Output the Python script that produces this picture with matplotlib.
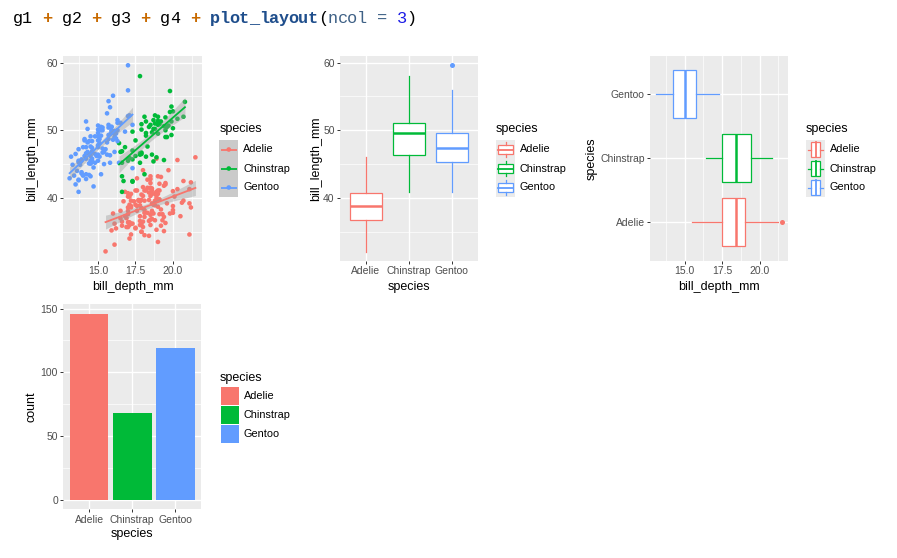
import numpy as np
import matplotlib
matplotlib.use("Agg")
import matplotlib.pyplot as plt
from matplotlib.patches import Rectangle

# ---------------- data (bill_length_mm, bill_depth_mm) ----------------
species = ["Adelie", "Chinstrap", "Gentoo"]
colors = ["#F8766D", "#00BA38", "#619CFF"]

adelie = [(39.1,18.7),(39.5,17.4),(40.3,18.0),(36.7,19.3),(39.3,20.6),(38.9,17.8),(39.2,19.6),(41.1,17.6),
(38.6,21.2),(34.6,21.1),(36.6,17.8),(38.7,19.0),(42.5,20.7),(34.4,18.4),(46.0,21.5),(37.8,18.3),(37.7,18.7),
(35.9,19.2),(38.2,18.1),(38.8,17.2),(35.3,18.9),(40.6,18.6),(40.5,17.9),(37.9,18.6),(40.5,18.9),(39.5,16.7),
(37.2,18.1),(39.5,17.8),(40.9,18.9),(36.4,17.0),(39.2,21.1),(38.8,20.0),(42.2,18.5),(37.6,19.3),(39.8,19.1),
(36.5,18.0),(40.8,18.4),(36.0,18.5),(44.1,19.7),(37.0,16.9),(39.6,18.8),(41.1,19.0),(36.0,17.9),(42.3,21.2),
(39.6,17.7),(40.1,18.9),(35.0,17.9),(42.0,19.5),(34.5,18.1),(41.4,18.6),(39.0,17.5),(40.6,18.8),(36.5,16.6),
(37.6,19.1),(35.7,16.9),(41.3,21.1),(37.6,17.0),(41.1,18.2),(36.4,17.1),(41.6,18.0),(35.5,16.2),(41.1,19.1),
(35.9,16.6),(41.8,19.4),(33.5,19.0),(39.7,18.4),(39.6,17.2),(45.8,18.9),(35.5,17.5),(42.8,18.5),(40.9,16.8),
(37.2,19.4),(36.2,16.1),(42.1,19.1),(34.6,17.2),(42.9,17.6),(36.7,18.8),(35.1,19.4),(37.3,17.8),(41.3,20.3),
(36.3,19.5),(36.9,18.6),(38.3,19.2),(38.9,18.8),(35.7,18.0),(41.1,18.1),(34.0,17.1),(39.6,18.1),(36.2,17.3),
(40.8,18.9),(38.1,18.6),(40.3,18.5),(33.1,16.1),(43.2,18.5),(35.0,17.9),(41.0,20.0),(37.7,16.0),(37.8,20.0),
(37.9,18.6),(39.7,18.9),(38.6,17.2),(38.2,20.0),(38.1,17.0),(43.2,19.0),(38.1,16.5),(45.6,20.3),(39.7,17.7),
(42.2,19.5),(39.6,20.7),(42.7,18.3),(38.6,17.0),(37.3,20.5),(35.7,17.0),(41.1,18.6),(36.2,17.2),(37.7,19.8),
(40.2,17.0),(41.4,18.5),(35.2,15.9),(40.6,19.0),(38.8,17.6),(41.5,18.3),(39.0,17.1),(44.1,18.0),(38.5,17.9),
(43.1,19.2),(36.8,18.5),(37.5,18.5),(38.1,17.6),(41.1,17.5),(35.6,17.5),(40.2,20.1),(37.0,16.5),(39.7,17.9),
(40.2,17.1),(40.6,17.2),(32.1,15.5),(40.7,17.0),(37.3,16.8),(39.0,18.7),(39.2,18.6),(36.6,18.4),(36.0,17.8),
(37.8,18.1),(36.0,17.1),(41.5,18.5)]

chinstrap = [(46.5,17.9),(50.0,19.5),(51.3,19.2),(45.4,18.7),(52.7,19.8),(45.2,17.8),(46.1,18.2),(51.3,18.2),
(46.0,18.9),(51.3,19.9),(46.6,17.8),(51.7,20.3),(47.0,17.3),(52.0,18.1),(45.9,17.1),(50.5,19.6),(50.3,20.0),
(58.0,17.8),(46.4,18.6),(49.2,18.2),(42.4,17.3),(48.5,17.5),(43.2,16.6),(50.6,19.4),(46.7,17.9),(52.0,19.0),
(50.5,18.4),(49.5,19.0),(46.4,17.8),(52.8,20.0),(40.9,16.6),(54.2,20.8),(42.5,16.7),(51.0,18.8),(49.7,18.6),
(47.5,16.8),(47.6,18.3),(52.0,20.7),(46.9,16.6),(53.5,19.9),(49.0,19.5),(46.2,17.5),(50.9,19.1),(45.5,17.0),
(50.9,17.9),(50.8,18.5),(50.1,17.9),(49.0,19.6),(51.5,18.7),(49.8,17.3),(48.1,16.4),(51.4,19.0),(45.7,17.3),
(50.7,19.7),(42.5,17.3),(52.2,18.8),(45.2,16.6),(49.3,19.9),(50.2,18.8),(45.6,19.4),(51.9,19.5),(46.8,16.5),
(45.7,17.0),(55.8,19.8),(43.5,18.1),(49.6,18.2),(50.8,19.0),(50.2,18.7)]

gentoo = [(46.1,13.2),(50.0,16.3),(48.7,14.1),(50.0,15.2),(47.6,14.5),(46.5,13.5),(45.4,14.6),(46.7,15.3),
(43.3,13.4),(46.8,15.4),(40.9,13.7),(49.0,16.1),(45.5,13.7),(48.4,14.6),(45.8,14.6),(49.3,15.7),(42.0,13.5),
(49.2,15.2),(46.2,14.5),(48.7,15.1),(50.2,14.3),(45.1,14.5),(46.5,14.5),(46.3,15.8),(42.9,13.1),(46.1,15.1),
(47.8,15.0),(48.2,14.3),(50.0,15.3),(47.3,15.3),(42.8,14.2),(45.1,14.5),(59.6,17.0),(49.1,14.8),(48.4,16.3),
(42.6,13.7),(44.4,17.3),(44.0,13.6),(48.7,15.7),(42.7,13.7),(49.6,16.0),(45.3,13.7),(49.6,15.0),(50.5,15.9),
(43.6,13.9),(45.5,13.9),(50.5,15.9),(44.9,13.3),(45.2,15.8),(46.6,14.2),(48.5,14.1),(45.1,14.4),(50.1,15.0),
(46.5,14.4),(45.0,15.4),(43.8,13.9),(45.5,15.0),(43.2,14.5),(50.4,15.3),(45.3,13.8),(46.2,14.9),(45.7,13.9),
(54.3,15.7),(45.8,14.2),(49.8,16.8),(49.5,16.2),(43.5,14.2),(50.7,15.0),(47.7,15.0),(46.4,15.6),(48.2,15.6),
(46.5,14.8),(46.4,15.0),(48.6,16.0),(47.5,14.2),(51.1,16.3),(45.2,13.8),(45.2,16.4),(49.1,14.5),(52.5,15.6),
(47.4,14.6),(50.0,15.9),(44.9,13.8),(50.8,17.3),(43.4,14.4),(51.3,14.2),(47.5,14.0),(52.1,17.0),(47.5,15.0),
(52.2,17.1),(45.5,14.5),(49.5,16.1),(44.5,14.7),(50.8,15.7),(49.4,15.8),(46.9,14.6),(48.4,14.4),(51.1,16.5),
(48.5,15.0),(55.9,17.0),(47.2,15.5),(49.1,15.0),(46.8,16.1),(41.7,14.7),(53.4,15.8),(43.3,14.0),(48.1,15.1),
(50.5,15.2),(49.8,15.9),(43.5,15.2),(51.5,16.3),(46.2,14.1),(55.1,16.0),(48.8,16.2),(47.2,13.7),(46.8,14.3),
(50.4,15.7),(45.2,14.8),(49.9,16.1)]

counts = [146, 68, 119]

groups = [adelie, chinstrap, gentoo]
lengths = [np.array([p[0] for p in g]) for g in groups]
depths = [np.array([p[1] for p in g]) for g in groups]

# ---------------- figure setup ----------------
W, H = 897, 558
fig = plt.figure(figsize=(W / 100, H / 100), dpi=100)
fig.patch.set_facecolor("white")

SANS = ["Liberation Sans", "DejaVu Sans"]
TICK_FS = 7.5
LEG_FS = 7.8
TITLE_FS = 9.0
PANEL_BG = "#EBEBEB"

def ax_at(x0, y0, x1, y1):
    return fig.add_axes([x0 / W, 1 - y1 / H, (x1 - x0) / W, (y1 - y0) / H])

def style(ax):
    ax.set_facecolor(PANEL_BG)
    for s in ax.spines.values():
        s.set_visible(False)
    ax.set_axisbelow(True)
    ax.grid(True, which="major", color="white", lw=1.0)
    ax.grid(True, which="minor", color="white", lw=0.5)
    ax.tick_params(which="major", length=2.3, width=0.7, color="#333333",
                   labelcolor="#4D4D4D", labelsize=TICK_FS, pad=1.5)
    ax.tick_params(which="minor", length=0)
    for lab in ax.get_xticklabels() + ax.get_yticklabels():
        lab.set_family(SANS)

def t975(df):
    z = 1.959964
    return z + (z**3 + z) / (4 * df) + (5 * z**5 + 16 * z**3 + 3 * z) / (96 * df**2)

# overlay axes in pixel coords for titles, legends, code line
ov = fig.add_axes([0, 0, 1, 1], zorder=10)
ov.set_xlim(0, W)
ov.set_ylim(H, 0)
ov.axis("off")

def pix_text(x, y, s, **kw):
    kw.setdefault("family", SANS)
    ov.text(x, y, s, **kw)

# ---------------- code line ----------------
code_parts = [("g1 ", "#000000", "normal"), ("+", "#C86A00", "bold"), (" g2 ", "#000000", "normal"),
              ("+", "#C86A00", "bold"), (" g3 ", "#000000", "normal"), ("+", "#C86A00", "bold"),
              (" g4 ", "#000000", "normal"), ("+", "#C86A00", "bold"), (" ", "#000000", "normal"),
              ("plot_layout", "#1F4E8C", "bold"), ("(", "#000000", "normal"),
              ("ncol", "#3F6186", "normal"), (" = ", "#3F6186", "normal"), ("3", "#1A1AE6", "normal"),
              (")", "#000000", "normal")]
CW = 9.85
cx = 17.5 - CW / 2
for s, c, w in code_parts:
    for ch in s:
        if ch != " ":
            ov.text(cx + CW / 2, 22.7, ch, family=["Liberation Mono", "DejaVu Sans Mono"],
                    fontsize=12.2, color=c, weight=w, ha="center", va="baseline")
        cx += CW

xlim_depth = (12.68, 21.92)
ylim_len = (30.725, 60.975)

# ---------------- g1: scatter + lm ----------------
ax1 = ax_at(63.3, 56, 201.7, 260.7)
for d, l, c in zip(depths, lengths, colors):
    ax1.scatter(d, l, s=11, color=c, edgecolors="none", zorder=3)
for d, l, c in zip(depths, lengths, colors):
    n = len(d)
    b, a = np.polyfit(d, l, 1)
    xs = np.linspace(d.min(), d.max(), 80)
    yhat = a + b * xs
    resid = l - (a + b * d)
    s2 = np.sum(resid**2) / (n - 2)
    se = np.sqrt(s2 * (1 / n + (xs - d.mean())**2 / np.sum((d - d.mean())**2)))
    tq = t975(n - 2)
    ax1.fill_between(xs, yhat - tq * se, yhat + tq * se, color="#999999", alpha=0.4, lw=0, zorder=4)
    ax1.plot(xs, yhat, color=c, lw=1.3, zorder=5)
ax1.set_xlim(*xlim_depth)
ax1.set_ylim(*ylim_len)
ax1.set_xticks([15.0, 17.5, 20.0])
ax1.set_xticklabels(["15.0", "17.5", "20.0"])
ax1.set_xticks([13.75, 16.25, 18.75, 21.25], minor=True)
ax1.set_yticks([40, 50, 60])
ax1.set_yticks([35, 45, 55], minor=True)
style(ax1)
pix_text(132.5, 286.7, "bill_depth_mm", fontsize=TITLE_FS, ha="center", va="center")
pix_text(31.7, 158.4, "bill_length_mm", fontsize=TITLE_FS, ha="center", va="center", rotation=90)

# ---------------- g2: boxplot bill_length by species ----------------
def draw_box(ax, data, orient):
    bp = ax.boxplot(data, positions=[1, 2, 3], widths=0.75, whis=1.5, patch_artist=True,
                    showcaps=False, orientation=orient, manage_ticks=False)
    for i, c in enumerate(colors):
        bp["boxes"][i].set(facecolor="white", edgecolor=c, lw=0.9)
        bp["medians"][i].set(color=c, lw=1.8)
        for w in bp["whiskers"][2 * i:2 * i + 2]:
            w.set(color=c, lw=0.9)
        bp["fliers"][i].set(marker="o", markerfacecolor=c, markeredgecolor="none", markersize=3.6)

ax2 = ax_at(340, 56, 477.7, 261)
draw_box(ax2, lengths, "vertical")
ax2.set_xlim(0.4, 3.6)
ax2.set_ylim(*ylim_len)
ax2.set_xticks([1, 2, 3])
ax2.set_xticklabels(species)
ax2.set_yticks([40, 50, 60])
ax2.set_yticks([35, 45, 55], minor=True)
style(ax2)
pix_text(408.8, 286.7, "species", fontsize=TITLE_FS, ha="center", va="center")
pix_text(316.5, 158.5, "bill_length_mm", fontsize=TITLE_FS, ha="center", va="center", rotation=90)

# ---------------- g3: horizontal boxplot bill_depth by species ----------------
ax3 = ax_at(650, 56, 788.3, 260.7)
draw_box(ax3, depths, "horizontal")
ax3.set_ylim(0.4, 3.6)
ax3.set_xlim(*xlim_depth)
ax3.set_yticks([1, 2, 3])
ax3.set_yticklabels(species)
ax3.set_xticks([15.0, 17.5, 20.0])
ax3.set_xticklabels(["15.0", "17.5", "20.0"])
ax3.set_xticks([13.75, 16.25, 18.75, 21.25], minor=True)
style(ax3)
pix_text(719.2, 287, "bill_depth_mm", fontsize=TITLE_FS, ha="center", va="center")
pix_text(592, 158.4, "species", fontsize=TITLE_FS, ha="center", va="center", rotation=90)

# ---------------- g4: bar counts ----------------
ax4 = ax_at(63.3, 304.3, 201, 509.3)
ax4.bar([1, 2, 3], counts, width=0.9, color=colors, zorder=3)
ax4.set_xlim(0.4, 3.6)
ax4.set_ylim(-0.05 * max(counts), 1.05 * max(counts))
ax4.set_xticks([1, 2, 3])
ax4.set_xticklabels(species)
ax4.set_yticks([0, 50, 100, 150])
ax4.set_yticks([25, 75, 125], minor=True)
style(ax4)
pix_text(132.2, 534.3, "species", fontsize=TITLE_FS, ha="center", va="center")
pix_text(31.7, 406.8, "count", fontsize=TITLE_FS, ha="center", va="center", rotation=90)

# ---------------- legends ----------------
KEY = 19.0

def legend(x0, y_title, y0, kind):
    pix_text(x0, y_title, "species", fontsize=TITLE_FS, ha="left", va="center")
    for i, (sp, c) in enumerate(zip(species, colors)):
        ky = y0 + i * KEY
        cyk = ky + KEY / 2
        if kind == "smooth":
            ov.add_patch(Rectangle((x0, ky), KEY, KEY, facecolor="#CACACA", edgecolor="none"))
            ov.plot([x0 + 1.5, x0 + KEY - 1.5], [cyk, cyk], color=c, lw=1.3, solid_capstyle="butt")
            ov.scatter([x0 + KEY / 2], [cyk], s=11, color=c, edgecolors="none", zorder=5)
        elif kind == "vbox":
            ov.add_patch(Rectangle((x0, ky), KEY, KEY, facecolor=PANEL_BG, edgecolor="none"))
            ov.plot([x0 + KEY / 2] * 2, [ky + 0.1 * KEY, ky + 0.25 * KEY], color=c, lw=0.9)
            ov.plot([x0 + KEY / 2] * 2, [ky + 0.75 * KEY, ky + 0.9 * KEY], color=c, lw=0.9)
            ov.add_patch(Rectangle((x0 + 0.1 * KEY, ky + 0.25 * KEY), 0.8 * KEY, 0.5 * KEY,
                                   facecolor="white", edgecolor=c, lw=0.9))
            ov.plot([x0 + 0.1 * KEY, x0 + 0.9 * KEY], [cyk, cyk], color=c, lw=1.3)
        elif kind == "hbox":
            ov.add_patch(Rectangle((x0, ky), KEY, KEY, facecolor=PANEL_BG, edgecolor="none"))
            ov.plot([x0 + 0.1 * KEY, x0 + 0.25 * KEY], [cyk, cyk], color=c, lw=0.9)
            ov.plot([x0 + 0.75 * KEY, x0 + 0.9 * KEY], [cyk, cyk], color=c, lw=0.9)
            ov.add_patch(Rectangle((x0 + 0.25 * KEY, ky + 0.1 * KEY), 0.5 * KEY, 0.8 * KEY,
                                   facecolor="white", edgecolor=c, lw=0.9))
            ov.plot([x0 + KEY / 2] * 2, [ky + 0.1 * KEY, ky + 0.9 * KEY], color=c, lw=1.3)
        elif kind == "rect":
            ov.add_patch(Rectangle((x0 + 0.5, ky + 0.5), KEY - 1, KEY - 1, facecolor=c, edgecolor="none"))
        pix_text(x0 + KEY + 5.0, cyk, sp, fontsize=LEG_FS, ha="left", va="center", color="#000000")

legend(219.3, 129.0, 140.0, "smooth")
legend(496.0, 129.0, 140.0, "vbox")
legend(806.0, 129.0, 140.0, "hbox")
legend(220.0, 377.7, 386.7, "rect")

fig.savefig("out.png", dpi=100, facecolor="white")
